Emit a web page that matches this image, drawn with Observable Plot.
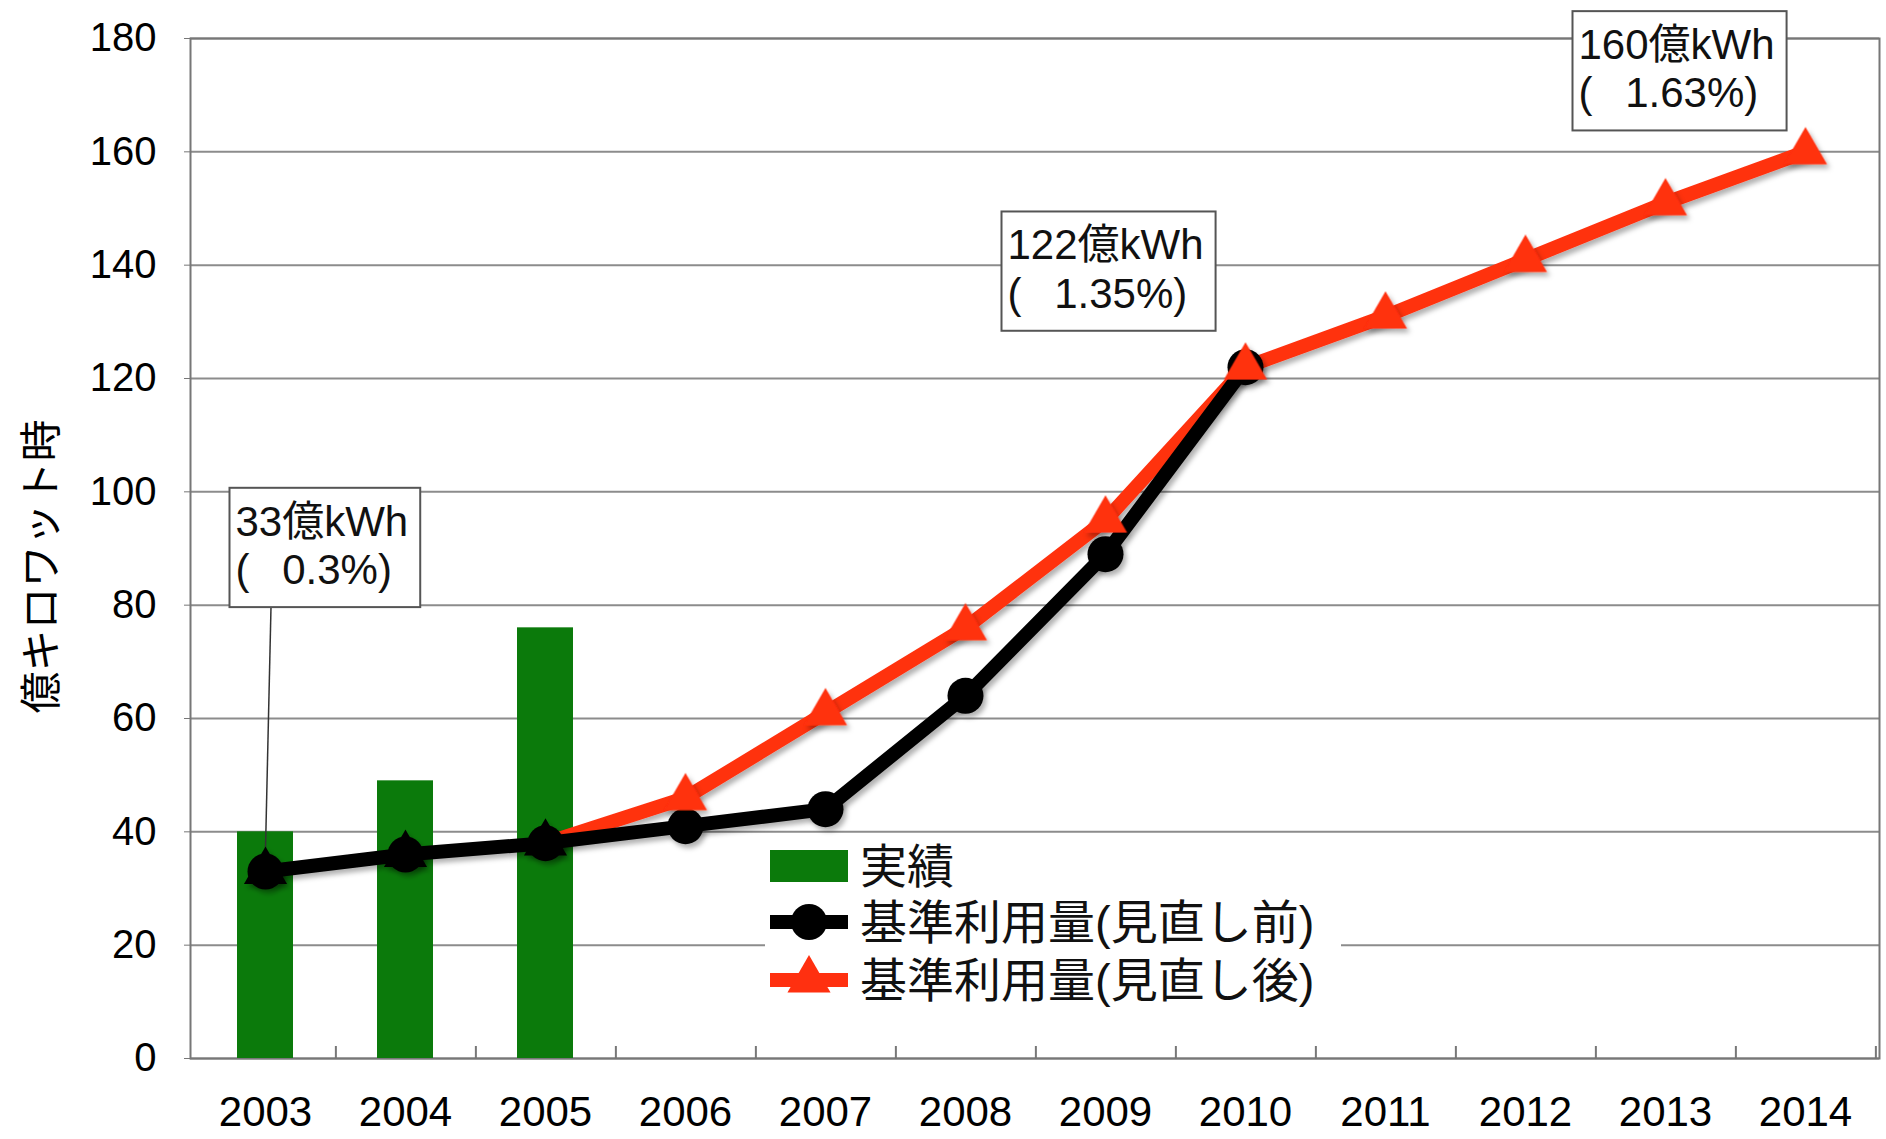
<!DOCTYPE html>
<html><head><meta charset="utf-8">
<script src="https://cdn.jsdelivr.net/npm/d3@7"></script>
<script src="https://cdn.jsdelivr.net/npm/@observablehq/plot@0.6"></script>
<style>html,body{margin:0;padding:0;background:#fff;overflow:hidden;}</style>
</head><body><div id="chart"></div>
<script>
// ---- data ----
const years = ["2003","2004","2005","2006","2007","2008","2009","2010","2011","2012","2013","2014"];
const actualYears = ["2003","2004","2005"];
const actualValues = [40, 49, 76];
const beforeYears = ["2003","2004","2005","2006","2007","2008","2009","2010"];
const beforeValues = [33, 36, 38, 41, 44, 64, 89, 122];
const afterValues = [33, 36, 38, 46, 61, 76, 95, 122, 131, 141, 151, 160];
const yTicks = [0, 20, 40, 60, 80, 100, 120, 140, 160, 180];
const seriesNames = ["実績", "基準利用量(見直し前)", "基準利用量(見直し後)"];
const annYears = ["2003", "2010", "2014"];
const annValues = [33, 122, 160];
const annLabels = ["33億kWh\n(\u2002 0.3%)", "122億kWh\n(\u2002 1.35%)", "160億kWh\n(\u2002 1.63%)"];
const yLabel = "億キロワット時";

// ---- styling ----
const W = 1886, H = 1139;
const mL = 190, mR = 7, mT = 38, mB = 81;
const step = (W - mL - mR) / years.length;
const GREEN = "#0b7a0b", RED = "#ff3010", BLACK = "#000";
const FONT = "'Liberation Sans', 'Noto Sans CJK JP', sans-serif";
const JFONT = "'Noto Sans CJK JP', sans-serif";
const RC = 18, RT = 16, LW = 14;

const actual = actualYears.map((y, i) => ({year: y, value: actualValues[i]}));
const before = beforeYears.map((y, i) => ({year: y, value: beforeValues[i]}));
const after = years.map((y, i) => ({year: y, value: afterValues[i]}));
const ann = annYears.map((y, i) => ({year: y, value: annValues[i], label: annLabels[i]}));
const annOffsets = [[-30, -327], [-238, -99], [-227, -84]];

const plot = Plot.plot({
  width: W, height: H,
  marginLeft: mL, marginRight: mR, marginTop: mT, marginBottom: mB,
  style: {fontFamily: FONT, background: "#fff", color: "#000"},
  x: {domain: years, paddingInner: 0.6, paddingOuter: 0.3, label: null},
  y: {domain: [0, 180], label: null},
  marks: [
    Plot.gridY(yTicks, {stroke: "#8c8c8c", strokeOpacity: 1, strokeWidth: 2}),
    Plot.frame({stroke: "#777", strokeWidth: 2}),
    Plot.ruleX(years, {x: d => d, dx: step / 2, insetTop: H - mT - mB - 12, stroke: "#777", strokeWidth: 2}),
    Plot.barY(actual, {x: "year", y: "value", fill: GREEN}),
    Plot.axisY(yTicks, {tickSize: 6, tickPadding: 28, fontSize: 40, stroke: "#777"}),
    Plot.axisX({tickSize: 0, tickPadding: 38, fontSize: 42}),
    Plot.text([yLabel], {text: d => d, frameAnchor: "left", rotate: -90, dx: -148, dy: 18,
      textAnchor: "middle", lineAnchor: "middle", fontSize: 42, fontFamily: JFONT}),
    Plot.line(after.slice(2), {x: "year", y: "value", stroke: RED, strokeWidth: LW, ariaDescription: "redline"}),
    Plot.line(before, {x: "year", y: "value", stroke: BLACK, strokeWidth: LW, ariaDescription: "blackline"}),
    Plot.dot(after.slice(0, 3), {x: "year", y: "value", symbol: "triangle", r: RT, fill: BLACK, stroke: "none", ariaDescription: "tri0"}),
    Plot.dot(before, {x: "year", y: "value", symbol: "circle", r: RC, fill: BLACK, stroke: "none", ariaDescription: "circles"}),
    Plot.dot(after.slice(3), {x: "year", y: "value", symbol: "triangle", r: RT, fill: RED, stroke: "none", ariaDescription: "tri1"}),
    ...ann.map((a, i) => Plot.text([a], {x: "year", y: "value", text: "label", textAnchor: "start",
      lineAnchor: "middle", lineHeight: 1.15, dx: annOffsets[i][0], dy: annOffsets[i][1],
      fontSize: 42, fill: "#111", ariaDescription: "ann" + i}))
  ]
});
document.getElementById("chart").appendChild(plot);

// ---- post-render decorations ----
const svg = d3.select(plot);
const ns = "http://www.w3.org/2000/svg";
const q = k => plot.querySelector(`g[aria-description="${k}"]`);
const defs = svg.insert("defs", ":first-child");
const f = defs.append("filter").attr("id", "sh").attr("filterUnits", "userSpaceOnUse")
  .attr("x", 0).attr("y", 0).attr("width", W).attr("height", H);
f.append("feDropShadow").attr("dx", 3).attr("dy", 4).attr("stdDeviation", 2.5).attr("flood-color", "#000").attr("flood-opacity", 0.3);
["redline", "blackline", "tri0", "circles", "tri1"].forEach(k => { const g = q(k); if (g) g.setAttribute("filter", "url(#sh)"); });

const svgRect = plot.getBoundingClientRect();
const xs = plot.scale("x"), ys = plot.scale("y");
const px = y => xs.apply(y) + xs.bandwidth / 2;
const pad = {l: 6, r: 12, t: 10, b: 14};
const boxes = [];
ann.forEach((a, i) => {
  const g = q("ann" + i);
  if (!g) return;
  const r = g.getBoundingClientRect();
  const bx = r.left - svgRect.left - pad.l, by = r.top - svgRect.top - pad.t;
  const bw = r.width + pad.l + pad.r, bh = r.height + pad.t + pad.b;
  boxes[i] = {bx, by, bw, bh};
  const rect = document.createElementNS(ns, "rect");
  rect.setAttribute("x", bx); rect.setAttribute("y", by);
  rect.setAttribute("width", bw); rect.setAttribute("height", bh);
  rect.setAttribute("fill", "#fff"); rect.setAttribute("stroke", "#555"); rect.setAttribute("stroke-width", 2);
  g.parentNode.insertBefore(rect, g);
});
// leader line for first annotation
if (boxes[0]) {
  const b = boxes[0];
  const line = document.createElementNS(ns, "line");
  const x0 = px(annYears[0]), y0 = ys.apply(annValues[0]);
  line.setAttribute("x1", x0); line.setAttribute("y1", y0);
  line.setAttribute("x2", x0 + 6); line.setAttribute("y2", b.by + b.bh);
  line.setAttribute("stroke", "#333"); line.setAttribute("stroke-width", 1.5);
  const red = q("redline");
  if (red) red.parentNode.insertBefore(line, red); else plot.appendChild(line);
}
// legend
{
  const lg = svg.append("g").attr("font-family", FONT).attr("font-size", 47).attr("text-anchor", "start");
  lg.append("rect").attr("x", 765).attr("y", 838).attr("width", 576).attr("height", 167).attr("fill", "#fff");
  const rows = [866, 922, 980];
  lg.append("rect").attr("x", 770).attr("y", rows[0] - 16).attr("width", 78).attr("height", 32).attr("fill", GREEN);
  lg.append("line").attr("x1", 770).attr("x2", 848).attr("y1", rows[1]).attr("y2", rows[1]).attr("stroke", BLACK).attr("stroke-width", LW);
  lg.append("circle").attr("cx", 809).attr("cy", rows[1]).attr("r", RC).attr("fill", BLACK);
  lg.append("line").attr("x1", 770).attr("x2", 848).attr("y1", rows[2]).attr("y2", rows[2]).attr("stroke", RED).attr("stroke-width", LW);
  lg.append("path").attr("transform", `translate(809,${rows[2]})`)
    .attr("d", d3.symbol(d3.symbolTriangle, Math.PI * RT * RT)()).attr("fill", RED);
  seriesNames.forEach((s, i) => {
    lg.append("text").attr("x", 860).attr("y", rows[i]).attr("dy", "0.36em").attr("fill", "#111").text(s);
  });
}
</script>
</body></html>
